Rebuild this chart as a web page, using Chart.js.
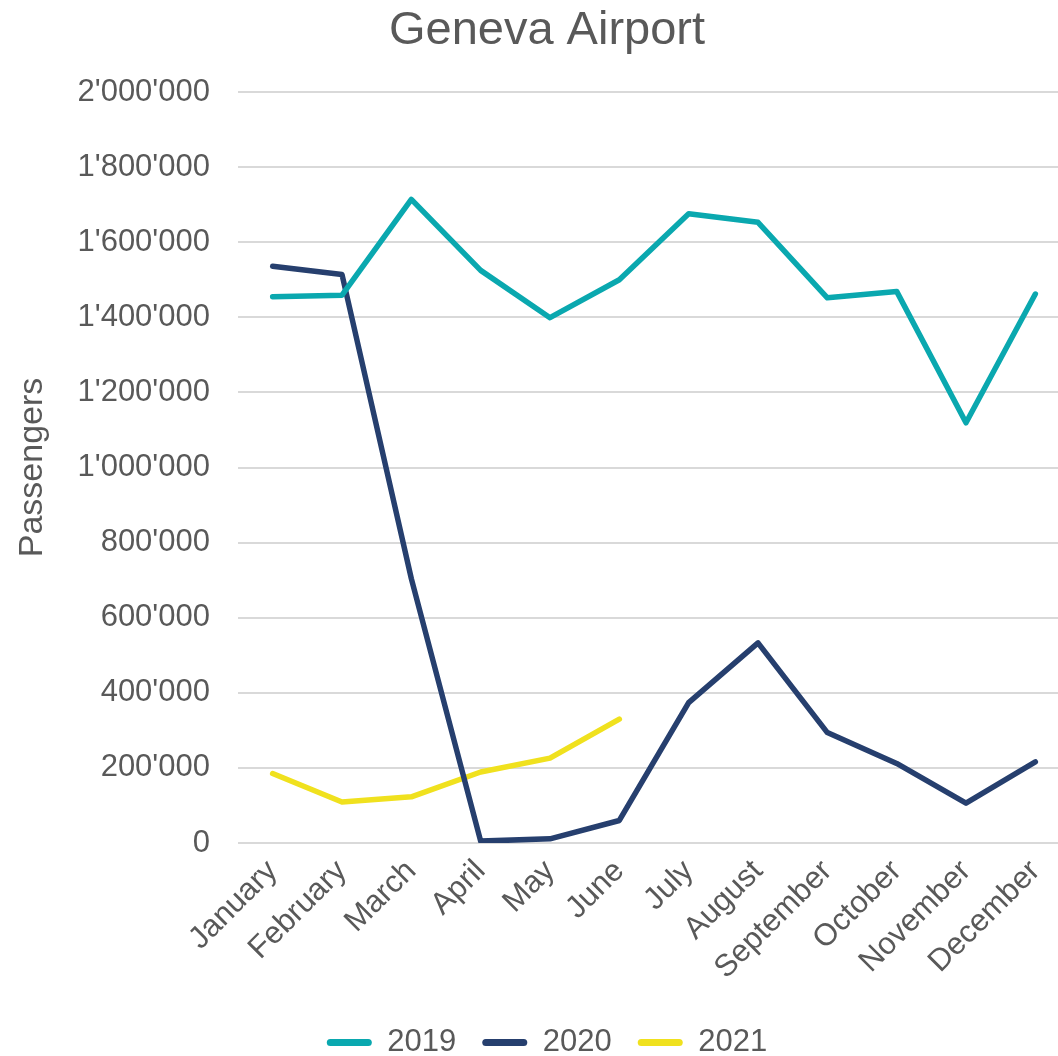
<!DOCTYPE html>
<html><head><meta charset="utf-8">
<script src="https://cdn.jsdelivr.net/npm/chart.js@4"></script>
<style>html,body{margin:0;padding:0;background:#fff;overflow:hidden}#wrap{width:1058px;height:1056px;overflow:hidden}</style>
</head><body><div id="wrap"><canvas id="c" width="1070" height="1056"></canvas></div>
<script>
const months = ['January','February','March','April','May','June','July','August','September','October','November','December'];
const seriesNames = ['2019','2020','2021'];
const pax2019 = [1455000, 1459000, 1714000, 1525000, 1399000, 1500000, 1676000, 1653000, 1452000, 1469000, 1119000, 1462000];
const pax2020 = [1536000, 1514000, 704000, 5000, 11000, 60000, 374000, 533000, 294000, 212000, 106000, 216000];
const pax2021 = [185000, 109000, 123000, 189000, 226000, 330000];
const yTicks = [0, 200000, 400000, 600000, 800000, 1000000, 1200000, 1400000, 1600000, 1800000, 2000000];
const colors = ['#0AA8AF', '#263F6E', '#F0E11E'];

const textColor = '#595959';
const FONT = 'Liberation Sans, Arial, sans-serif';
function fmt(v) { return String(v).replace(/\B(?=(\d{3})+(?!\d))/g, "'"); }

function ds(label, data, color) {
  return { label, data, borderColor: color, backgroundColor: color, borderWidth: 5.5,
    pointRadius: 0, pointHoverRadius: 0, tension: 0, fill: false,
    borderJoinStyle: 'round', borderCapStyle: 'round' };
}

new Chart(document.getElementById('c'), {
  type: 'line',
  data: {
    labels: months,
    datasets: [ds(seriesNames[0], pax2019, colors[0]), ds(seriesNames[1], pax2020, colors[1]), ds(seriesNames[2], pax2021, colors[2])]
  },
  options: {
    responsive: false, animation: false, devicePixelRatio: 1,
    layout: { padding: { left: 24, right: 0, top: 0, bottom: -12 } },
    plugins: {
      title: { display: true, text: 'Geneva Airport', color: textColor,
        font: { family: FONT, size: 47, weight: 'normal' }, padding: { top: 3, bottom: 32.6 } },
      legend: { position: 'bottom',
        labels: { color: textColor, font: { family: FONT, size: 31 }, boxWidth: 45, boxHeight: 7, padding: 26,
          useBorderRadius: true, borderRadius: 3.5,
          generateLabels(chart) {
            const items = Chart.defaults.plugins.legend.labels.generateLabels(chart);
            items.forEach((it, i) => { it.lineWidth = 0; it.fillStyle = colors[i]; it.strokeStyle = colors[i]; });
            return items;
          } } },
      tooltip: { enabled: false }
    },
    scales: {
      x: {
        offset: true,
        grid: { display: false, drawTicks: false },
        border: { display: false },
        ticks: { color: textColor, font: { family: FONT, size: 31 }, minRotation: 45, maxRotation: 45, autoSkip: false, padding: 10 },
        afterFit(scale) { scale.height = 158; scale.paddingRight = 0; scale.paddingLeft = 0; }
      },
      y: {
        min: 0, max: 2000000,
        afterBuildTicks(scale) { scale.ticks = yTicks.map(v => ({ value: v })); },
        grid: { color: '#D9D9D9', lineWidth: 2, drawTicks: false },
        border: { display: false },
        ticks: { color: textColor, font: { family: FONT, size: 31 }, padding: 28, callback: (v) => fmt(v) },
        title: { display: true, text: 'Passengers', color: textColor, font: { family: FONT, size: 34 }, padding: { top: -12, bottom: 0 } },
        afterFit(scale) { scale.width = 214; }
      }
    }
  }
});
</script>
</body></html>
